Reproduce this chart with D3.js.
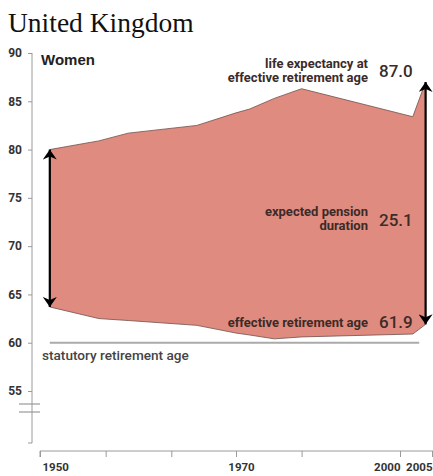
<!DOCTYPE html>
<html>
<head>
<meta charset="utf-8">
<script src="https://cdn.jsdelivr.net/npm/d3@7"></script>
<style>
  body { margin: 0; background: #fff; }
  svg text { font-family: Roboto, "Liberation Sans", sans-serif; }
</style>
</head>
<body>
<div id="chart"></div>
<script>
// values
var years    = [1951, 1956, 1959, 1966, 1970, 1972.5, 1977, 1982, 2002, 2004];
var lifeExp  = [80.0, 80.9, 81.7, 82.5, 83.8, 84.2, 85.3, 86.3, 83.4, 87.0];
var retAge   = [63.7, 62.5, 62.3, 61.8, 61.0, 60.8, 60.4, 60.6, 60.9, 61.9];
var statutory = 60;
var statYears = [1951, 2003];
var yTicks = [55, 60, 65, 70, 75, 80, 85, 90];
var xTicks = [1950, 1956.7, 1963.4, 1970, 1982, 2000, 2005];
var xLabels = {1950: "1950", 1970: "1970", 2000: "2000", 2005: "2005"};
var lastLife = "87.0", lastDur = "25.1", lastRet = "61.9";

var width = 433, height = 476;
var fillC = "#e08b7f", edgeC = "#6e4f4a", axisC = "#9a9a9a", textC = "#3b2b29";

var svg = d3.select("#chart").append("svg")
  .attr("width", width)
  .attr("height", height);

svg.append("text")
  .attr("x", 8).attr("y", 32)
  .style("font-family", "'Liberation Serif', 'Times New Roman', serif")
  .style("font-size", "27.5px")
  .attr("fill", "#111")
  .text("United Kingdom");

var x = d3.scaleLinear()
  .domain([1950, 1970, 2000, 2005])
  .range([40, 236, 400, 432]);
var y = d3.scaleLinear()
  .domain([55, 90])
  .range([391, 53]);

var data = years.map(function(d, i) { return {year: d, hi: lifeExp[i], lo: retAge[i]}; });

// arrow heads
var defs = svg.append("defs");
defs.append("marker")
  .attr("id", "head")
  .attr("viewBox", "0 0 10 14")
  .attr("refX", 10).attr("refY", 7)
  .attr("markerWidth", 10).attr("markerHeight", 14)
  .attr("markerUnits", "userSpaceOnUse")
  .attr("orient", "auto-start-reverse")
  .append("path")
  .attr("d", "M0,0 L10,7 L0,14 L3,7 Z")
  .attr("fill", "#000");

// y axis
var yAxis = svg.append("g")
  .attr("transform", "translate(32,0)")
  .call(d3.axisLeft(y).tickValues(yTicks).tickSize(4).tickPadding(6));
yAxis.select(".domain").remove();
yAxis.selectAll("line").attr("stroke", axisC);
yAxis.selectAll("text")
  .attr("fill", "#333")
  .style("font-size", "12px")
  .style("font-weight", "bold");
yAxis.append("line")
  .attr("x1", 0).attr("x2", 0)
  .attr("y1", y(90)).attr("y2", 443)
  .attr("stroke", axisC);
yAxis.append("line")
  .attr("x1", -4).attr("x2", 0)
  .attr("y1", 443).attr("y2", 443)
  .attr("stroke", axisC);
// axis break
[404, 412].forEach(function(b) {
  yAxis.append("line")
    .attr("x1", -13).attr("x2", 8)
    .attr("y1", b).attr("y2", b)
    .attr("stroke", axisC).attr("stroke-width", 1.2);
});

// x axis
var xAxis = svg.append("g")
  .attr("transform", "translate(0,451)")
  .call(d3.axisBottom(x).tickValues(xTicks).tickSize(6).tickPadding(6)
    .tickFormat(function(d) { return xLabels[d] || ""; }));
xAxis.select(".domain")
  .attr("d", "M40,6V0H433")
  .attr("stroke", axisC);
xAxis.selectAll("line").attr("stroke", axisC);
xAxis.selectAll("text")
  .attr("fill", "#333")
  .style("font-size", "11.5px")
  .style("font-weight", "bold")
  .attr("text-anchor", function(d) {
    if (d == 1950) return "start";
    if (d >= 2000) return "end";
    return "middle";
  })
  .attr("dx", function(d) { return d == 1950 ? 2 : d == 1970 ? 5 : 0; });

// shaded band between the two lines
var area = d3.area()
  .x(function(d) { return x(d.year); })
  .y0(function(d) { return y(d.lo); })
  .y1(function(d) { return y(d.hi); });
svg.append("path")
  .datum(data)
  .attr("d", area)
  .attr("fill", fillC)
  .attr("stroke", edgeC)
  .attr("stroke-width", 0.8);

// statutory retirement age
svg.append("line")
  .attr("x1", x(statYears[0])).attr("x2", x(statYears[1]))
  .attr("y1", y(statutory)).attr("y2", y(statutory))
  .attr("stroke", "#aaa").attr("stroke-width", 2);

// arrows at the first and last year
[data[0], data[data.length - 1]].forEach(function(d) {
  svg.append("line")
    .attr("x1", x(d.year)).attr("x2", x(d.year))
    .attr("y1", y(d.lo)).attr("y2", y(d.hi))
    .attr("stroke", "#000").attr("stroke-width", 2.2)
    .attr("marker-start", "url(#head)")
    .attr("marker-end", "url(#head)");
});

svg.append("text")
  .attr("x", 41).attr("y", 65)
  .style("font-family", "'Liberation Sans', Arial, sans-serif")
  .style("font-size", "15px").style("font-weight", "bold")
  .attr("fill", "#222")
  .text("Women");

svg.append("text")
  .attr("x", 42).attr("y", 360)
  .style("font-size", "13.6px")
  .style("font-weight", "500")
  .attr("fill", "#444")
  .text("statutory retirement age");

function label(lines, y0, num, ny) {
  var t = svg.append("text")
    .attr("text-anchor", "end")
    .style("font-size", "13px")
    .style("font-weight", "bold")
    .attr("fill", textC);
  lines.forEach(function(s, i) {
    t.append("tspan").attr("x", 368).attr("y", y0 + i * 14).text(s);
  });
  svg.append("text")
    .attr("x", 379).attr("y", ny)
    .style("font-size", "17px")
    .style("font-weight", "500")
    .attr("fill", textC)
    .text(num);
}
label(["life expectancy at", "effective retirement age"], 68, lastLife, 77);
label(["expected pension", "duration"], 216, lastDur, 226);
label(["effective retirement age"], 327, lastRet, 328);
</script>
</body>
</html>
